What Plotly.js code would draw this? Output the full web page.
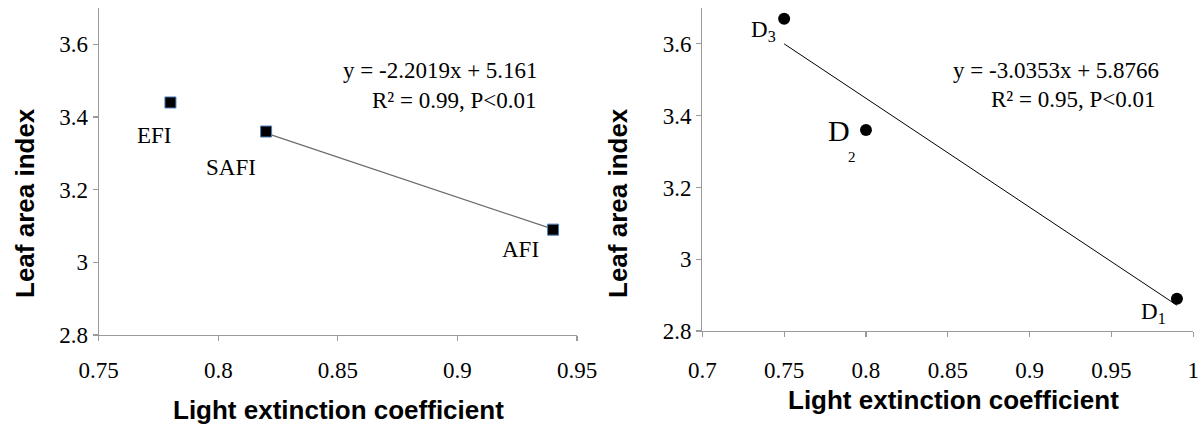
<!DOCTYPE html>
<html><head><meta charset="utf-8">
<script src="https://cdn.plot.ly/plotly-3.0.1.min.js"></script>
<style>html,body{margin:0;padding:0;background:#fff}#c{width:1204px;height:425px}</style>
</head><body><div id="c"></div>
<script>
// Left panel: forest types
const leftNames = ["EFI", "SAFI", "AFI"];
const leftX = [0.78, 0.82, 0.94];
const leftY = [3.44, 3.36, 3.09];
const leftFitX = [0.82, 0.94];
const leftSlope = -2.2019, leftIntercept = 5.161;
const leftEq = ["y = -2.2019x + 5.161", "R² = 0.99, P<0.01"];

// Right panel: densities
const rightNames = ["D3", "D2", "D1"];
const rightX = [0.75, 0.80, 0.99];
const rightY = [3.67, 3.36, 2.89];
const rightFitX = [0.75, 0.99];
const rightSlope = -3.0353, rightIntercept = 5.8766;
const rightEq = ["y = -3.0353x + 5.8766", "R² = 0.95, P<0.01"];

const xTicksLeft = [0.75, 0.8, 0.85, 0.9, 0.95];
const xTicksRight = [0.7, 0.75, 0.8, 0.85, 0.9, 0.95, 1];
const yTicks = [2.8, 3, 3.2, 3.4, 3.6];

const serif = "Times New Roman, Liberation Serif, serif";
const sans = "Liberation Sans, Arial, sans-serif";

const traces = [
  {x: leftFitX, y: leftFitX.map(v => leftSlope * v + leftIntercept), mode: "lines",
   line: {color: "#6b6b6b", width: 1.2}, xaxis: "x", yaxis: "y", hoverinfo: "skip"},
  {x: leftX, y: leftY, mode: "markers", xaxis: "x", yaxis: "y",
   marker: {symbol: "square", size: 11, color: "#000", line: {color: "#4a7ebb", width: 1}}},
  {x: rightFitX, y: rightFitX.map(v => rightSlope * v + rightIntercept), mode: "lines",
   line: {color: "#000", width: 1}, xaxis: "x2", yaxis: "y2", hoverinfo: "skip"},
  {x: rightX, y: rightY, mode: "markers", xaxis: "x2", yaxis: "y2",
   marker: {symbol: "circle", size: 12, color: "#000"}}
];

function tf(size) { return {family: serif, size: size, color: "#000"}; }
function ax(extra) {
  return Object.assign({
    showgrid: false, zeroline: false, showline: true, linecolor: "#9a9a9a", linewidth: 1.2,
    ticks: "outside", ticklen: 5, tickcolor: "#9a9a9a", tickwidth: 1.2,
    tickmode: "array", tickfont: tf(23)
  }, extra);
}

const ann = [];
const leftLabelPos = [[0.7735, 3.35], [0.8055, 3.26], [0.9265, 3.035]];
leftNames.forEach((n, i) => ann.push({x: leftLabelPos[i][0], y: leftLabelPos[i][1], xref: "x", yref: "y",
  text: n, showarrow: false, font: tf(23)}));
ann.push({x: 0.9345, y: 3.527, xref: "x", yref: "y", text: leftEq[0], showarrow: false, xanchor: "right", font: tf(23)});
ann.push({x: 0.9335, y: 3.445, xref: "x", yref: "y", text: leftEq[1], showarrow: false, xanchor: "right", font: tf(23)});
ann.push({x: 0.9805, y: 3.527, xref: "x2", yref: "y2", text: rightEq[0], showarrow: false, xanchor: "right", font: tf(23)});
ann.push({x: 0.9780, y: 3.445, xref: "x2", yref: "y2", text: rightEq[1], showarrow: false, xanchor: "right", font: tf(23)});
ann.push({x: 0.7375, y: 3.635, xref: "x2", yref: "y2", text: "D<sub>3</sub>", showarrow: false, font: tf(23)});
ann.push({x: 0.7835, y: 3.36, xref: "x2", yref: "y2", text: "D", showarrow: false, font: tf(30)});
ann.push({x: 0.7915, y: 3.285, xref: "x2", yref: "y2", text: "2", showarrow: false, font: tf(15)});
ann.push({x: 0.9755, y: 2.85, xref: "x2", yref: "y2", text: "D<sub>1</sub>", showarrow: false, font: tf(23)});
const titleFont = {family: sans, size: 26, color: "#000"};
function title(px, py, text, angle) {
  ann.push({x: px / 1204, y: 1 - py / 425, xref: "paper", yref: "paper", xanchor: "center", yanchor: "middle",
    text: "<b>" + text + "</b>", textangle: angle, showarrow: false, font: titleFont});
}
title(338, 410, "Light extinction coefficient", 0);
title(953, 400, "Light extinction coefficient", 0);
title(25, 203, "Leaf area index", -90);
title(618, 203, "Leaf area index", -90);

const layout = {
  width: 1204, height: 425, margin: {l: 0, r: 0, t: 0, b: 0},
  font: {family: serif, size: 23, color: "#000"},
  paper_bgcolor: "#fff", plot_bgcolor: "#fff", showlegend: false,
  xaxis: ax({domain: [98.7 / 1204, 577 / 1204], range: [0.75, 0.95],
    tickvals: xTicksLeft, ticktext: xTicksLeft.map(String), anchor: "y", ticklabelstandoff: 9}),
  yaxis: ax({domain: [1 - 335 / 425, 1 - 8 / 425], range: [2.8, 3.7],
    tickvals: yTicks, ticktext: yTicks.map(String), anchor: "x"}),
  xaxis2: ax({domain: [702.3 / 1204, 1193.3 / 1204], range: [0.7, 1.0],
    tickvals: xTicksRight, ticktext: xTicksRight.map(String), anchor: "y2", ticklabelstandoff: 13}),
  yaxis2: ax({domain: [1 - 331 / 425, 1 - 8 / 425], range: [2.8, 3.7],
    tickvals: yTicks, ticktext: yTicks.map(String), anchor: "x2"}),
  annotations: ann
};
Plotly.newPlot("c", traces, layout, {staticPlot: true, displayModeBar: false});
</script></body></html>
